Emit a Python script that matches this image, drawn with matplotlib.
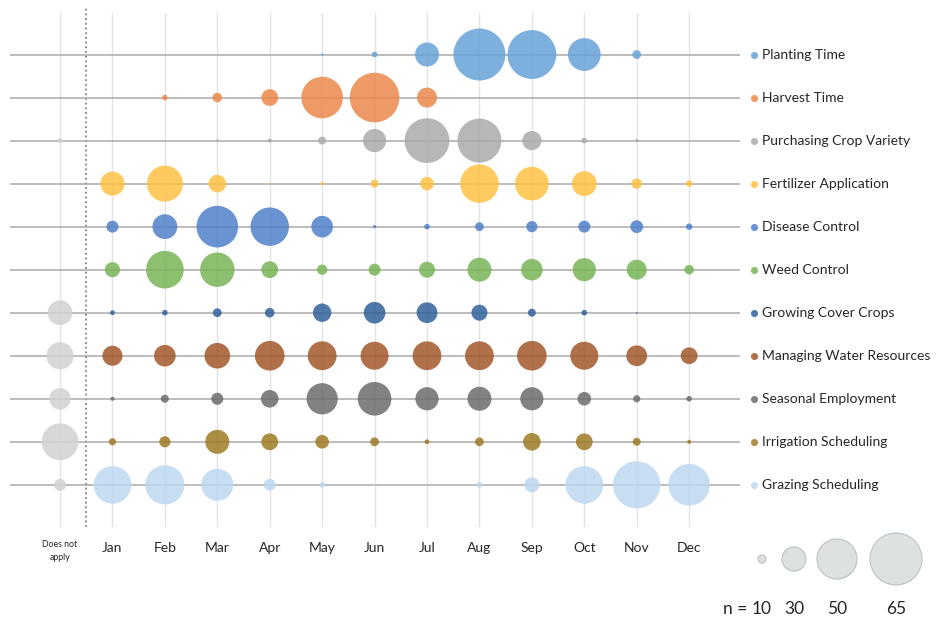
import matplotlib
matplotlib.use("Agg")
import matplotlib.pyplot as plt
import matplotlib.transforms as mtransforms

plt.rcParams['font.family'] = ['Lato', 'DejaVu Sans']

columns = ["Does not\napply", "Jan", "Feb", "Mar", "Apr", "May", "Jun",
           "Jul", "Aug", "Sep", "Oct", "Nov", "Dec"]

categories = ["Planting Time", "Harvest Time", "Purchasing Crop Variety",
              "Fertilizer Application", "Disease Control", "Weed Control",
              "Growing Cover Crops", "Managing Water Resources",
              "Seasonal Employment", "Irrigation Scheduling", "Grazing Scheduling"]

colors = ["#68A3D9", "#EC894B", "#ABABAB", "#FFC144", "#5080C9", "#79B457",
          "#2F6299", "#A25729", "#6C6C6C", "#9F7A24", "#BED8F0"]
dna_color = "#D2D2D3"

# counts: [Does not apply, Jan..Dec]
planting    = [0, 0, 0, 0, 0, 3, 7, 30, 65, 61, 41, 11, 0]
harvest     = [0, 1, 7, 12, 21, 52, 62, 25, 1, 0, 0, 0, 0]
purchasing  = [6, 0, 0, 3, 5, 10, 29, 56, 55, 24, 7, 4, 0]
fertilizer  = [0, 30, 45, 22, 2, 4, 10, 17, 48, 42, 31, 13, 8]
disease     = [0, 15, 31, 52, 48, 27, 4, 7, 11, 14, 15, 16, 8]
weed        = [0, 19, 47, 43, 21, 13, 15, 20, 30, 27, 29, 25, 12]
cover       = [31, 6, 7, 11, 12, 23, 27, 26, 20, 10, 7, 2, 0]
water       = [34, 25, 27, 32, 37, 36, 35, 36, 36, 37, 35, 26, 21]
employment  = [27, 5, 10, 15, 22, 39, 42, 29, 30, 29, 17, 9, 7]
irrigation  = [46, 9, 14, 30, 21, 17, 11, 6, 11, 22, 21, 10, 5]
grazing     = [15, 47, 49, 40, 15, 7, 3, 2, 7, 19, 47, 59, 52]

series = [planting, harvest, purchasing, fertilizer, disease, weed,
          cover, water, employment, irrigation, grazing]

size_legend = [10, 30, 50, 65]

ALPHA = 0.85
def area(n):
    # bubble diameter in points proportional to n
    return (0.576 * n) ** 2

W, H = 936, 630
fig = plt.figure(figsize=(W / 100, H / 100), dpi=100)
ax = fig.add_axes([10 / W, (H - 527) / H, 730 / W, 514 / H])

ncol = len(columns)
nrow = len(categories)
ax.set_xlim(-0.954, 12.97)
ax.set_ylim(10.98, -0.965)

# vertical light grid lines
for i in range(ncol):
    ax.axvline(i, color="#E3E3E3", lw=1.0, zorder=0)
# dotted separator
ax.axvline(0.5, ymin=0, ymax=1.012, color="#7F7F7F", lw=1.3,
           linestyle=(0, (1, 1.6)), zorder=1, clip_on=False)
# horizontal row lines
for j in range(nrow):
    ax.axhline(j, color="#A9A9A9", lw=1.1, zorder=1)

for j, (vals, col) in enumerate(zip(series, colors)):
    xs = [i for i, v in enumerate(vals) if v > 0]
    ns = [v for v in vals if v > 0]
    cs = [dna_color if i == 0 else col for i in xs]
    ax.scatter(xs, [j] * len(xs), s=[area(n) for n in ns], c=cs,
               alpha=ALPHA, linewidths=0, zorder=3)

# right-side legend
for j, (cat, col) in enumerate(zip(categories, colors)):
    ax.scatter([13.237], [j], s=26, c=col, alpha=ALPHA, linewidths=0,
               clip_on=False, zorder=3)
    ax.text(13.39, j, cat, fontsize=10, va="center", ha="left",
            color="#262626", clip_on=False)

# column labels
trans = mtransforms.blended_transform_factory(ax.transData, fig.transFigure)
for i, lab in enumerate(columns):
    if i == 0:
        ax.text(i, (H - 551) / H, lab, fontsize=6.3, ha="center", va="center",
                transform=trans, color="#262626", linespacing=1.5)
    else:
        ax.text(i, (H - 548) / H, lab, fontsize=10, ha="center", va="center",
                transform=trans, color="#262626")

for sp in ax.spines.values():
    sp.set_visible(False)
ax.set_xticks([])
ax.set_yticks([])

# size legend
axl = fig.add_axes([0, 0, 1, 1])
axl.set_xlim(0, W)
axl.set_ylim(H, 0)
axl.axis("off")
leg_x = [762, 794, 837, 896]
axl.scatter(leg_x, [559] * len(leg_x), s=[area(n) for n in size_legend],
            facecolor="#DDE1E1", edgecolor="#BCC1C1", linewidths=0.8)
for x, n in zip(leg_x, size_legend):
    axl.text(x, 609, str(n), fontsize=12.5,
             ha="center", va="center", color="#262626")
axl.text(752, 609, "n = ", fontsize=12.5, ha="right", va="center",
         color="#262626")

fig.savefig("out.png", dpi=100, facecolor="white")
